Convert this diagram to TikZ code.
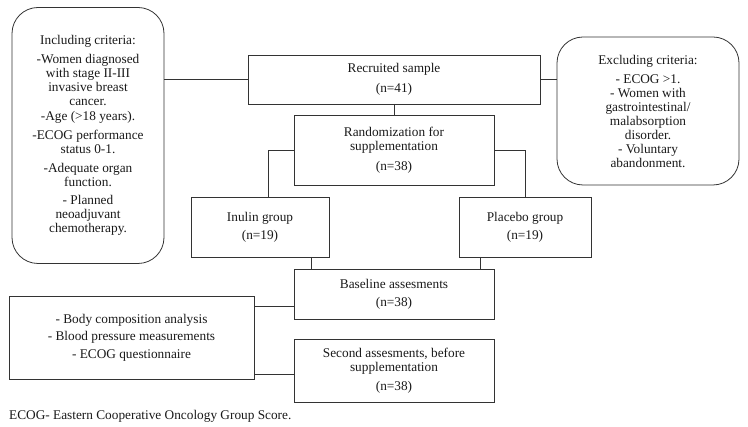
\documentclass[tikz,border=0pt]{standalone}
\usepackage{fontspec}
\setmainfont{Liberation Serif}
\begin{document}
\begin{tikzpicture}[x=1pt,y=-1pt,
  every node/.style={font=\fontsize{13.3}{14}\selectfont, text=black!90},
  box/.style={draw=black!80, line width=0.8pt, inner sep=0pt, outer sep=0pt, align=center},
  rbox/.style={box, rounded corners=26pt},
  conn/.style={draw=black!80, line width=0.8pt}]
\useasboundingbox (0,0) rectangle (748,427);

\node[rbox, minimum width=152pt, minimum height=256pt] (incl) at (88,135.5)
  {\raisebox{-3pt}{\begin{tabular}{@{}c@{}}Including criteria:\\[5pt]
   -Women diagnosed\\ with stage II-III\\ invasive breast\\ cancer.\\[1pt]
   -Age (>18 years).\\[5pt]
   -ECOG performance\\ status 0-1.\\[5pt]
   -Adequate organ\\ function.\\[4pt]
   - Planned\\ neoadjuvant\\ chemotherapy.\end{tabular}}};

\node[rbox, minimum width=182pt, minimum height=148pt] (excl) at (648,111)
  {Excluding criteria:\\[5pt]
   - ECOG >1.\\ - Women with\\ gastrointestinal/\\ malabsorption\\ disorder.\\ - Voluntary\\ abandonment.};

\node[box, minimum width=292pt, minimum height=49pt] (rec) at (394,79.5)
  {Recruited sample\\[6pt] (n=41)};

\node[box, minimum width=200pt, minimum height=70pt] (rand) at (394,150)
  {Randomization for\\ supplementation\\[6pt] (n=38)};

\node[box, minimum width=138pt, minimum height=60pt] (inul) at (260,227)
  {Inulin group\\[4pt] (n=19)};

\node[box, minimum width=132pt, minimum height=60pt] (plac) at (525,227)
  {Placebo group\\[4pt] (n=19)};

\node[box, minimum width=200pt, minimum height=50pt] (base) at (394,294)
  {Baseline assesments\\[4pt] (n=38)};

\node[box, minimum width=200pt, minimum height=63pt] (second) at (394,370.5)
  {Second assesments, before\\ supplementation\\[5pt] (n=38)};

\node[box, minimum width=245pt, minimum height=83pt] (body) at (131.5,337.5)
  {- Body composition analysis\\[3.5pt] - Blood pressure measurements\\[3.5pt] - ECOG questionnaire};

\node[anchor=base west, inner sep=0pt] (foot) at (9,420)
  {ECOG- Eastern Cooperative Oncology Group Score.};

\draw[conn] (rec.west) -- (rec.west -| incl.east);
\draw[conn] (rec.east) -- (rec.east -| excl.west);
\draw[conn] (rec.south) -- (rand.north);
\draw[conn] (rand.west) -| ([xshift=8pt]inul.north);
\draw[conn] (rand.east) -| (plac.north);
\draw[conn] ([xshift=51pt]inul.south) -- ([xshift=51pt]inul.south |- base.north);
\draw[conn] ([xshift=-45pt]plac.south) -- ([xshift=-45pt]plac.south |- base.north);
\draw[conn] ([yshift=-12pt]base.west) -- ([yshift=-12pt]base.west -| body.east);
\draw[conn] ([yshift=-3.5pt]second.west) -- ([yshift=-3.5pt]second.west -| body.east);
\end{tikzpicture}
\end{document}
